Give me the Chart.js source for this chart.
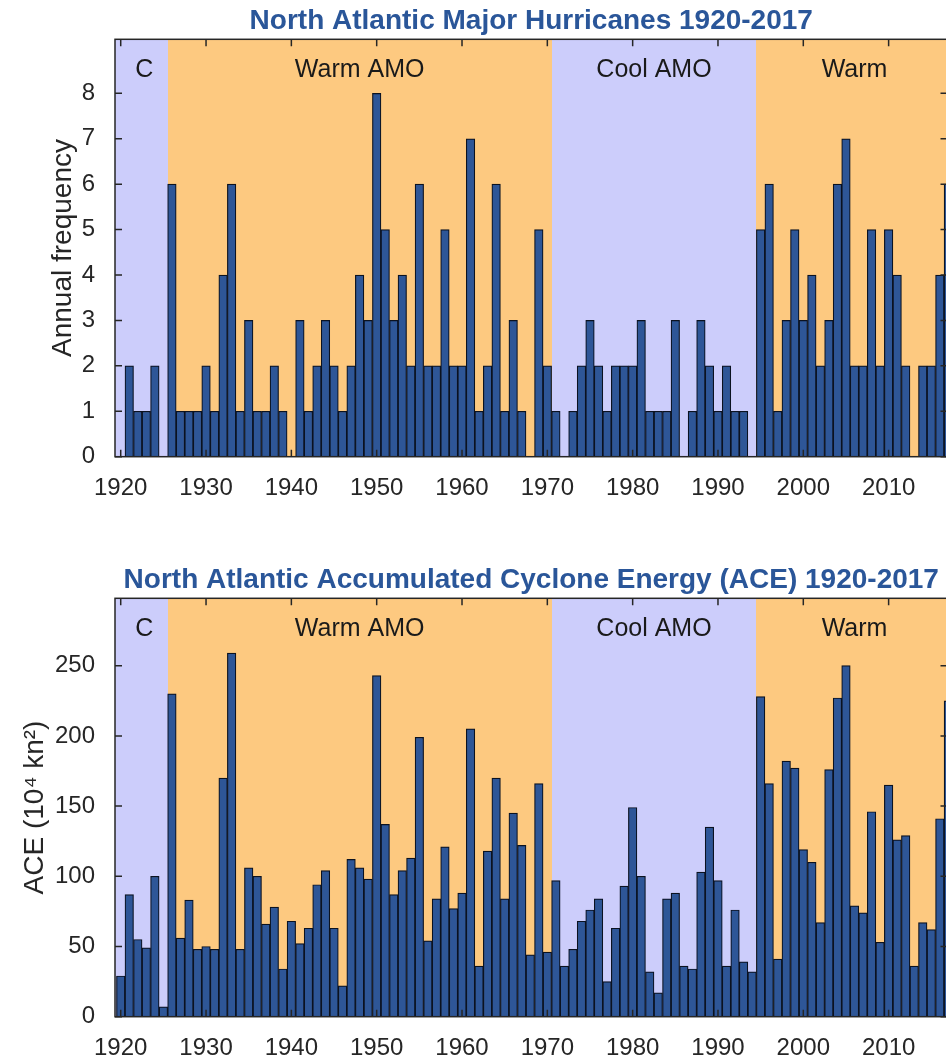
<!DOCTYPE html>
<html>
<head>
<meta charset="utf-8">
<script src="https://cdn.jsdelivr.net/npm/chart.js@4.4.1/dist/chart.umd.min.js"></script>
<style>
  html, body { margin: 0; padding: 0; background: #fff; overflow: hidden; width: 946px; height: 1059px; }
  canvas { position: absolute; left: 0; }
  #chartMajor { top: 0; }
  #chartAce { top: 530px; }
</style>
</head>
<body>
<canvas id="chartMajor" width="960" height="530"></canvas>
<canvas id="chartAce" width="960" height="529"></canvas>
<script>
// years 1920-2017
const years = [];
for (let y = 1920; y <= 2017; y++) years.push(y);

// major hurricanes per year
const majorHurricanes = [
  0, 2, 1, 1, 2, 0, 6, 1, 1, 1,
  2, 1, 4, 6, 1, 3, 1, 1, 2, 1,
  0, 3, 1, 2, 3, 2, 1, 2, 4, 3,
  8, 5, 3, 4, 2, 6, 2, 2, 5, 2,
  2, 7, 1, 2, 6, 1, 3, 1, 0, 5,
  2, 1, 0, 1, 2, 3, 2, 1, 2, 2,
  2, 3, 1, 1, 1, 3, 0, 1, 3, 2,
  1, 2, 1, 1, 0, 5, 6, 1, 3, 5,
  3, 4, 2, 3, 6, 7, 2, 2, 5, 2,
  5, 4, 2, 0, 2, 2, 4, 6
];

// accumulated cyclone energy (10^4 kn^2)
const aceValues = [
  29, 87, 55, 49, 100, 7, 230, 56, 83, 48,
  50, 48, 170, 259, 48, 106, 100, 66, 78, 34,
  68, 52, 63, 94, 104, 63, 22, 112, 106, 98,
  243, 137, 87, 104, 113, 199, 54, 84, 121, 77,
  88, 205, 36, 118, 170, 84, 145, 122, 44, 166,
  46, 97, 36, 48, 68, 76, 84, 25, 63, 93,
  149, 100, 32, 17, 84, 88, 36, 34, 103, 135,
  97, 36, 76, 39, 32, 228, 166, 41, 182, 177,
  119, 110, 67, 176, 227, 250, 79, 74, 146, 53,
  165, 126, 129, 36, 67, 62, 141, 225
];

// AMO phases
const phaseBounds = [1919, 1925.5, 1970.5, 1994.5, 2018];
const phaseNames = ['C', 'Warm AMO', 'Cool AMO', 'Warm'];
const phaseCool = [true, false, true, false];
const phaseLabelYears = [1922.75, 1948, 1982.5, 2006];

const yearTicks = [1920, 1930, 1940, 1950, 1960, 1970, 1980, 1990, 2000, 2010];
const freqTicks = [0, 1, 2, 3, 4, 5, 6, 7, 8];
const aceTicks = [0, 50, 100, 150, 200, 250];

const WARM = '#fdc980';
const COOL = '#cccdfb';
const BAR_BLUE = '#2e5697';
const BAR_EDGE = '#0b1220';
const TITLE_BLUE = '#2a5699';
const AXIS = '#262626';

Chart.defaults.font.family = '"Liberation Sans", Arial, sans-serif';

const amoPlugin = {
  id: 'amo',
  beforeDatasetsDraw(chart) {
    const { ctx, chartArea: a, scales: { x } } = chart;
    ctx.save();
    ctx.beginPath();
    ctx.rect(a.left, a.top, a.width, a.height);
    ctx.clip();
    phaseNames.forEach((name, i) => {
      const x0 = Math.round(x.getPixelForValue(phaseBounds[i]));
      const x1 = Math.round(x.getPixelForValue(phaseBounds[i + 1]));
      ctx.fillStyle = phaseCool[i] ? COOL : WARM;
      ctx.fillRect(x0, a.top, x1 - x0, a.height);
    });
    ctx.font = '25px "Liberation Sans", Arial, sans-serif';
    ctx.fillStyle = '#1a1a1a';
    ctx.textAlign = 'center';
    ctx.textBaseline = 'middle';
    phaseNames.forEach((name, i) => {
      ctx.fillText(name, x.getPixelForValue(phaseLabelYears[i]), a.top + 31);
    });
    ctx.restore();
  },
  afterDatasetsDraw(chart) {
    const { ctx, chartArea: a, scales: { x, y } } = chart;
    ctx.save();
    ctx.strokeStyle = AXIS;
    ctx.lineWidth = 1.5;
    ctx.strokeRect(a.left, a.top, a.width, a.height);
    ctx.beginPath();
    x.ticks.forEach(t => {
      const px = x.getPixelForValue(t.value);
      ctx.moveTo(px, a.bottom); ctx.lineTo(px, a.bottom - 7);
      ctx.moveTo(px, a.top); ctx.lineTo(px, a.top + 7);
    });
    y.ticks.forEach(t => {
      const py = y.getPixelForValue(t.value);
      ctx.moveTo(a.left, py); ctx.lineTo(a.left + 7, py);
      ctx.moveTo(a.right, py); ctx.lineTo(a.right - 7, py);
    });
    ctx.stroke();
    ctx.restore();
  }
};

function chartOptions(cfg) {
  return {
    responsive: false,
    animation: false,
    layout: { padding: { top: cfg.padTop, right: 12.5, left: 0, bottom: 0 } },
    plugins: {
      legend: { display: false },
      tooltip: { enabled: false },
      title: {
        display: true,
        fullSize: false,
        text: cfg.title,
        color: TITLE_BLUE,
        font: { size: 28, weight: 'bold' },
        padding: { top: 4, bottom: 1.7 }
      }
    },
    scales: {
      x: {
        type: 'linear',
        min: 1919.33,
        max: 2016.9,
        offset: false,
        grid: { display: false },
        border: { display: false },
        afterBuildTicks: s => { s.ticks = yearTicks.map(v => ({ value: v })); },
        afterFit: s => { s.height = cfg.xHeight; },
        ticks: {
          padding: 9, color: AXIS, font: { size: 24 },
          maxRotation: 0, autoSkip: false,
          callback: v => String(v)
        }
      },
      y: {
        min: 0,
        max: cfg.yMax,
        grid: { display: false },
        border: { display: false },
        afterBuildTicks: s => { s.ticks = cfg.yTicks.map(v => ({ value: v })); },
        afterFit: s => { s.width = 115; },
        ticks: { padding: 12, color: AXIS, font: { size: 24 } },
        title: {
          display: true,
          text: cfg.yTitle,
          color: AXIS,
          font: { size: 28 },
          padding: { top: cfg.yTitlePad, bottom: 0 }
        }
      }
    }
  };
}

function barData(values) {
  return {
    datasets: [{
      data: years.map((yr, i) => ({ x: yr, y: values[i] })),
      backgroundColor: BAR_BLUE,
      borderColor: BAR_EDGE,
      borderWidth: 1.2,
      barPercentage: 1,
      categoryPercentage: 1
    }]
  };
}

new Chart(document.getElementById('chartMajor'), {
  type: 'bar',
  data: barData(majorHurricanes),
  options: chartOptions({
    title: 'North Atlantic Major Hurricanes 1920-2017',
    padTop: 0, xHeight: 73.3,
    yMax: 9.19, yTicks: freqTicks,
    yTitle: 'Annual frequency', yTitlePad: 46
  }),
  plugins: [amoPlugin]
});

new Chart(document.getElementById('chartAce'), {
  type: 'bar',
  data: barData(aceValues),
  options: chartOptions({
    title: 'North Atlantic Accumulated Cyclone Energy (ACE) 1920-2017',
    padTop: 29, xHeight: 42.3,
    yMax: 298, yTicks: aceTicks,
    yTitle: 'ACE (10\u2074 kn\u00b2)', yTitlePad: 18
  }),
  plugins: [amoPlugin]
});
</script>
</body>
</html>
